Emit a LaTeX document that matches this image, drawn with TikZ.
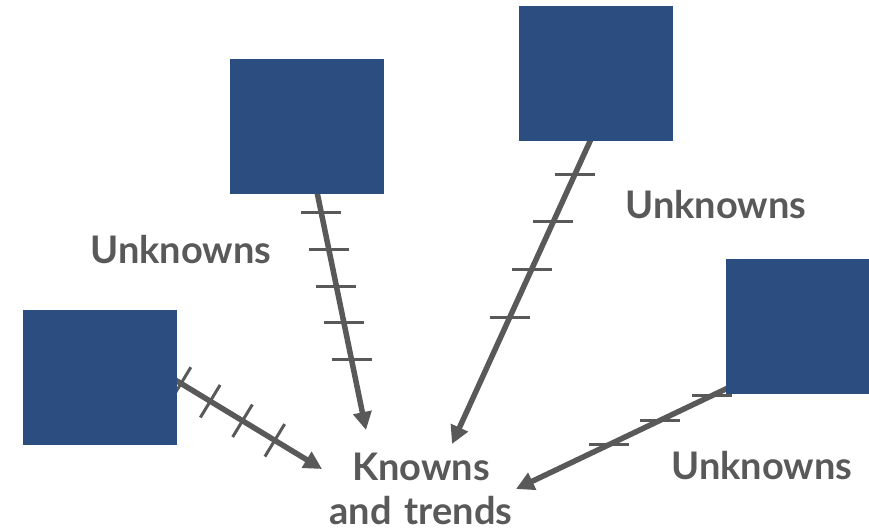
\documentclass[tikz,border=0pt]{standalone}
\usepackage{fontspec}
\setmainfont{Lato}
\usetikzlibrary{calc,arrows.meta}
\definecolor{boxblue}{HTML}{2C4D7F}
\definecolor{arrowgray}{HTML}{595959}
\begin{document}
\begin{tikzpicture}[x=1pt,y=-1pt,
  sq/.style={fill=boxblue,draw=none},
  flow/.style={draw=arrowgray,line width=5.5pt,-{Triangle[length=18pt,width=18pt]},shorten >=0pt},
  tick/.style={draw=arrowgray,line width=3pt},
  lbl/.style={text=arrowgray,font=\fontsize{38}{44}\selectfont\bfseries,align=center,inner sep=0pt}]
\useasboundingbox (0,0) rectangle (869,532);
% anchor coordinates
\coordinate (As) at (317,192);
\coordinate (At) at (366,430);
\coordinate (Bs) at (591,139);
\coordinate (Bt) at (452,444);
\coordinate (Cs) at (172,378);
\coordinate (Ct) at (322,469);
\coordinate (Ds) at (730,387);
\coordinate (Dt) at (516,489);
% arrows
\draw[flow] (As) -- (At);
\draw[flow] (Bs) -- (Bt);
\draw[flow] (Cs) -- (Ct);
\draw[flow] (Ds) -- (Dt);
% ticks A
\foreach \f in {0.085,0.24,0.395,0.55,0.705}{
  \draw[tick] ($(As)!\f!(At)+(-20,0)$) -- ($(As)!\f!(At)+(20,0)$);}
% ticks B
\foreach \f in {0.115,0.272,0.427,0.585}{
  \draw[tick] ($(Bs)!\f!(Bt)+(-20,0)$) -- ($(Bs)!\f!(Bt)+(20,0)$);}
% ticks C (perpendicular)
\foreach \f in {0.06,0.255,0.47,0.685}{
  \draw[tick] ($($(Cs)!\f!(Ct)$)!19pt!90:(Ct)$) -- ($($(Cs)!\f!(Ct)$)!19pt!-90:(Ct)$);}
% ticks D
\foreach \f in {0.085,0.325,0.565}{
  \draw[tick] ($(Ds)!\f!(Dt)+(-20,0)$) -- ($(Ds)!\f!(Dt)+(20,0)$);}
% boxes
\fill[sq] (230,59) rectangle (384,194) coordinate (boxA);
\fill[sq] (519,6) rectangle (673,141) coordinate (boxB);
\fill[sq] (23,310) rectangle (177,445) coordinate (boxC);
\fill[sq] (726,259) rectangle (869,394) coordinate (boxD);
% labels
\node[lbl] (u1) at (181,250) {Unknowns};
\node[lbl] (u2) at (716,205) {Unknowns};
\node[lbl] (u3) at (762,466) {Unknowns};
\node[lbl,text width=260pt] (k) at (421,489) {Knowns\\and trends};
\end{tikzpicture}
\end{document}
